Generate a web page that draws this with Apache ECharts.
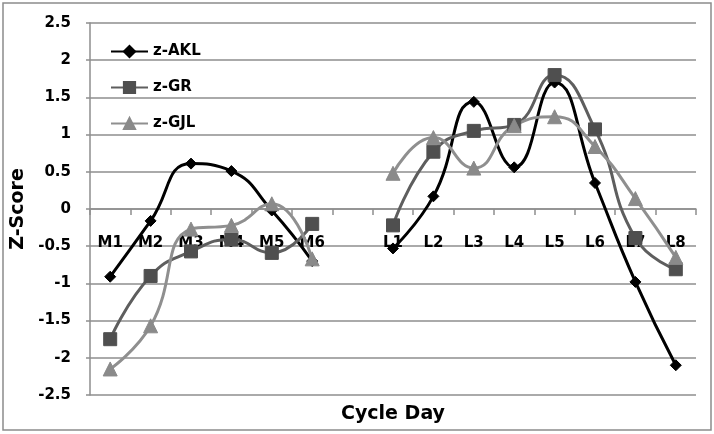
<!DOCTYPE html>
<html>
<head>
<meta charset="utf-8">
<script src="https://cdn.jsdelivr.net/npm/echarts@6/dist/echarts.min.js"></script>
<style>
html,body{margin:0;padding:0;background:#fff;}
#chart{width:714px;height:434px;}
</style>
</head>
<body>
<div id="chart"></div>
<script>
const categories = ['M1','M2','M3','M4','M5','M6','','L1','L2','L3','L4','L5','L6','L7','L8'];
const akl = [-0.91,-0.16,0.61,0.51,-0.02,-0.70,null,-0.53,0.17,1.44,0.56,1.70,0.35,-0.98,-2.10];
const gr  = [-1.75,-0.90,-0.57,-0.41,-0.59,-0.20,null,-0.22,0.77,1.05,1.13,1.80,1.07,-0.39,-0.81];
const gjl = [-2.15,-1.57,-0.27,-0.22,0.07,-0.67,null,0.48,0.96,0.55,1.12,1.24,0.84,0.14,-0.65];
const seriesNames = ['z-AKL','z-GR','z-GJL'];
const xTitle = 'Cycle Day';
const yTitle = 'Z-Score';

const FONT = 'DejaVu Sans';
const chart = echarts.init(document.getElementById('chart'), null, {renderer:'canvas'});
const gridCol = '#8e8e8e';
const gridTop = 23, gridBottom = 39, H = 434;
const zeroOffset = -((H - gridTop - gridBottom) / 2); // y=0 sits mid-grid for symmetric range
function mk(name, data, color, symColor, symbol, size){
  return {
    name, type:'line', data, smooth:0.5, connectNulls:false,
    symbol, symbolSize:size,
    lineStyle:{color, width:3},
    itemStyle:{color:symColor, borderColor:symColor, borderWidth:1},
    emphasis:{disabled:true}
  };
}
chart.setOption({
  animation:false,
  backgroundColor:'#fff',
  grid:{left:90, right:18, top:gridTop, bottom:gridBottom, containLabel:false, outerBoundsMode:'none'},
  legend:{
    orient:'vertical', left:105, top:39, itemWidth:37, itemHeight:14, itemGap:21,
    textStyle:{fontFamily:FONT, fontWeight:'bold', fontSize:15, color:'#000'},
    data:seriesNames
  },
  xAxis:{
    type:'category', data:categories, boundaryGap:true, offset:zeroOffset,
    axisLine:{onZero:false, lineStyle:{color:gridCol, width:1.5}},
    axisTick:{show:true, interval:0, length:6, lineStyle:{color:gridCol, width:1.5}},
    axisLabel:{interval:0, margin:27, fontFamily:FONT, fontWeight:'bold', fontSize:15, color:'#000'},
    name:xTitle, nameLocation:'middle', nameGap:196,
    nameTextStyle:{fontFamily:FONT, fontWeight:'bold', fontSize:19, color:'#000'}
  },
  yAxis:{
    type:'value', min:-2.5, max:2.5, interval:0.5,
    axisLine:{show:true, lineStyle:{color:gridCol, width:1.5}},
    axisTick:{show:true, length:4, lineStyle:{color:gridCol, width:1.5}},
    splitLine:{show:true, lineStyle:{color:gridCol, width:1.5}},
    axisLabel:{margin:19, fontFamily:FONT, fontWeight:'bold', fontSize:15, color:'#000'},
    name:yTitle, nameLocation:'middle', nameGap:53, nameRotate:90,
    nameTextStyle:{fontFamily:FONT, fontWeight:'bold', fontSize:19, color:'#000'}
  },
  graphic:[{
    type:'rect', shape:{x:3, y:3, width:708, height:427},
    style:{fill:'none', stroke:'#8c8c8c', lineWidth:1.5}, silent:true, z:-1
  }],
  series:[
    mk(seriesNames[0], akl, '#000000', '#000000', 'diamond', 11),
    mk(seriesNames[1], gr, '#5e5e5e', '#4f4f4f', 'rect', 13),
    mk(seriesNames[2], gjl, '#8f8f8f', '#8a8a8a', 'triangle', 14)
  ]
});
</script>
</body>
</html>
